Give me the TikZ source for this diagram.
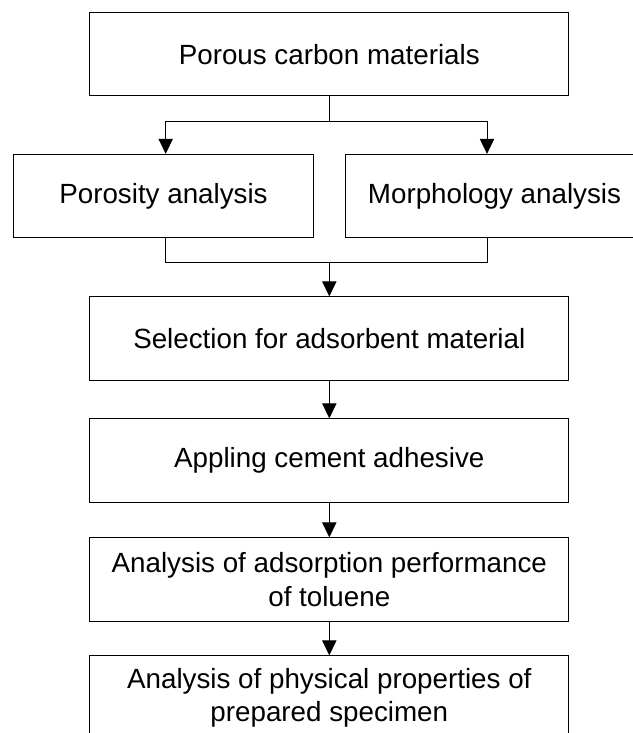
\documentclass[tikz,border=0pt]{standalone}
\usepackage{fontspec}
\setmainfont{Liberation Sans}
\usetikzlibrary{arrows.meta}

\begin{document}
\begin{tikzpicture}[x=0.03cm, y=-0.03cm,
  box/.style={draw, line width=0.85pt, inner sep=0pt, align=center,
    minimum height=2.5cm, font=\fontsize{23.7}{28.4}\selectfont},
  wide/.style={box, minimum width=14.36cm},
  half/.style={box, minimum width=8.97cm},
  wire/.style={line width=0.85pt},
  link/.style={wire, -{Triangle[width=0.43cm, length=0.45cm]}}]

\useasboundingbox (0, 0) rectangle (632, 733);

% Main boxes
\node[wide] (porous) at (329.3, 54.2) {Porous carbon materials};
\node[half] (porosity) at (163.5, 196) {Porosity analysis};
\node[half] (morph) at (494.5, 196) {Morphology analysis};
\node[wide] (select) at (329.3, 338.5) {Selection for adsorbent material};
\node[wide] (apply) at (329.3, 460.5) {Appling cement adhesive};
\node[wide] (adsorb) at (329.3, 579.5) {Analysis of adsorption performance\\of toluene};
\node[wide] (props) at (329.3, 697.5) {Analysis of physical properties of\\prepared specimen};

% Split and join points
\coordinate (splitL) at (165.7, 121.7);
\coordinate (splitR) at (487, 121.7);
\coordinate (joinL) at (165.7, 262);
\coordinate (joinR) at (487, 262);

% Split arrows
\draw[link] (porous.south) |- (splitL) -- (splitL |- porosity.north);
\draw[link] (porous.south) |- (splitR) -- (splitR |- morph.north);

% Join lines
\draw[wire] (porosity.south -| joinL) -- (joinL) -- (joinR) -- (morph.south -| joinR);
\draw[link] (joinL -| select.north) -- (select.north);

% Straight arrows
\draw[link] (select.south) -- (apply.north);
\draw[link] (apply.south) -- (adsorb.north);
\draw[link] (adsorb.south) -- (props.north);

\end{tikzpicture}
\end{document}
